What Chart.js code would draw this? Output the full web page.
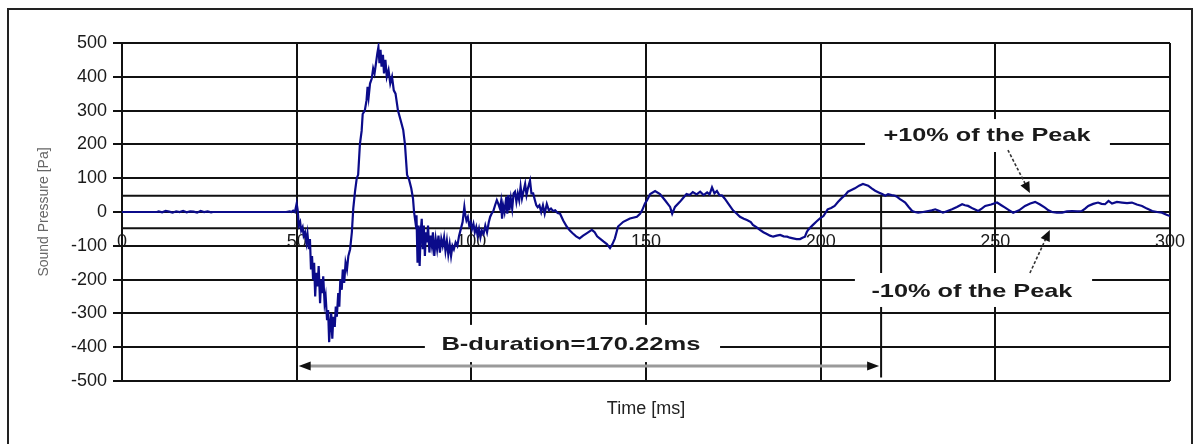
<!DOCTYPE html>
<html>
<head>
<meta charset="utf-8">
<title>Sound Pressure vs Time</title>
<script src="https://cdn.jsdelivr.net/npm/chart.js@4.4.1/dist/chart.umd.min.js"></script>
<style>
    html, body { margin: 0; padding: 0; background: #fff; }
    #wrap { position: relative; width: 1200px; height: 444px; }
    canvas { display: block; }
</style>
</head>
<body>
<div id="wrap"><canvas id="blastChart" width="1200" height="444"></canvas></div>
<script>
// 时间轴 (ms) 与声压 (Pa)
const timeMs = [
    0, 10, 10.5, 11.5, 12.5, 13.5, 14.5, 15.5, 16.5, 17.5, 18.5, 19.5, 20.5, 21.5, 22.5, 23.5, 24.5, 25.5, 26, 47, 48, 48.5, 49, 49.5,
    50.0, 50.3, 50.6, 51.0, 51.3, 51.7, 52.0, 52.4, 52.8, 53.1, 53.5, 53.8, 54.1, 54.4, 54.7, 55.0, 55.3, 55.6, 56.0, 56.3, 56.7, 57.0, 57.3, 57.6, 58.0, 58.3,
    58.7, 59.0, 59.3, 59.6, 59.9, 60.2, 60.5, 60.9, 61.2, 61.5, 61.9, 62.2, 62.5, 62.9, 63.2, 63.6, 64.0, 64.4, 64.8, 65.3, 65.8,
    66.2, 66.7, 67.2, 67.6, 68.1, 68.6, 68.9, 69.5, 70.0, 70.3, 70.6, 71.0, 71.5, 71.9, 72.3, 72.7, 73.1, 73.4, 73.7, 74.0, 74.3, 74.7,
    75.0, 75.4, 75.8, 76.3, 76.8, 77.3, 77.8, 78.3, 79.0, 79.8, 80.5, 81.0, 81.6, 82.2, 82.8, 83.3, 83.6,
    84.0, 84.3, 84.6, 84.9, 85.2, 85.5, 85.8, 86.1, 86.4, 86.7, 87.0, 87.3, 87.6, 88.0, 88.3, 88.7, 89.0, 89.4, 89.8, 90.2, 90.6,
    91.0, 91.4, 91.8, 92.2, 92.6, 93.0, 93.4, 93.8, 94.2, 94.6, 95.0, 95.5, 96.0, 96.5, 97.0, 97.5,
    98.0, 98.3, 98.6, 99.0, 99.4, 99.8, 100.2, 100.6, 101.0, 101.4, 101.8, 102.2, 102.6, 103.0, 103.5, 104.0, 104.5, 105.0, 105.4, 105.8,
    106.3, 106.8, 107.3, 107.7, 108.2, 108.5, 108.8, 109.1, 109.5, 110.0, 110.3, 110.6, 110.9, 111.3, 111.7, 112.1, 112.5, 112.9, 113.3, 113.7,
    114.1, 114.5, 114.9, 115.4, 115.8, 116.2, 116.8, 117.2, 117.7, 118.2, 118.6, 119.0, 119.5, 120.0, 120.5, 121.0, 121.6, 122.2, 122.8, 123.4,
    124.0, 124.7, 125.4, 126.3, 127.3, 128.2, 129.0, 130.0, 131.0, 132.0, 133.0, 134.5, 135.3, 136.0, 137.0, 137.8, 138.8, 139.7, 140.4, 141.1,
    142.0, 143.5, 145.4, 147.4, 148.3, 148.9, 149.7, 150.3, 151.2, 152.6, 154.0, 155.5, 156.9, 157.5, 158.3, 159.7, 160.5, 161.6, 162.5, 163.4,
    164.5, 165.5, 166.5, 167.5, 168.2, 168.9, 169.6, 170.3, 171.0, 171.8, 172.5, 173.2, 174.0, 174.9, 176.0, 176.9, 178.0, 178.9, 180.0, 180.6,
    181.6, 182.6, 183.6, 184.6, 185.5, 186.4, 187.4, 188.4, 189.4, 190.4, 191.2, 192.1, 193.1, 194.1, 194.8, 195.5, 196.0, 196.4, 197.1, 197.8,
    198.8, 199.8, 200.8, 202.0, 203.0, 204.0, 205.0, 206.0, 207.0, 207.8, 208.8, 209.8, 211.0, 212.1, 213.0, 213.6, 214.6, 215.6, 216.6, 217.6,
    218.5, 219.3, 220.3, 221.3, 222.0, 222.7, 223.5, 224.2, 225.2, 226.2, 227.0, 227.9, 229.3, 230.8, 231.8, 232.8, 234.0, 235.0, 236.3, 237.6,
    239.0, 240.5, 241.3, 242.2, 243.6, 245.1, 246.1, 247.1, 248.8, 250.5, 251.7, 252.8, 254.0, 255.1, 256.8, 258.5, 260.0, 261.4, 262.8, 264.2,
    265.2, 266.2, 267.6, 269.1, 270.5, 272.0, 273.4, 274.8, 275.7, 276.6, 278.0, 279.4, 280.4, 281.4, 282.4, 283.4, 284.8, 286.3, 287.7, 289.1,
    290.5, 292.0, 293.4, 294.9, 296.3, 297.7, 299.0, 300.0
];

const pressurePa = [
    0, 0, 2, -1, 3, 1, -2, 2, 0, 3, -1, 2, 1, -2, 3, 0, 2, -1, 0, 0, 2, 0, 4, 0,
    25, 5, -40, -30, -55, -45, -70, -60, -90, -65, -110, -80, -170, -130, -200, -150, -250, -180, -220, -160, -270, -200, -240, -190, -270, -250,
    -320, -290, -385, -330, -300, -375, -310, -340, -280, -310, -240, -280, -200, -230, -170, -210, -150, -170, -130, -110, -60,
    10, 60, 100, 110, 200, 240, 290, 300, 330, 370, 340, 380, 395, 425, 410, 440, 470, 488, 440, 480, 430, 465,
    410, 450, 400, 420, 380, 400, 360, 350, 300, 270, 243, 200, 110, 95, 70, 40, 0,
    -30, -10, -150, -40, -160, -60, -20, -110, -40, -130, -60, -90, -40, -120, -70, -100, -60, -130, -80, -110, -70,
    -120, -80, -100, -75, -115, -85, -125, -95, -130, -100, -110, -90, -100, -70, -50, -30,
    15, -10, -25, -15, -40, -30, -50, -35, -60, -45, -70, -50, -75, -55, -65, -40, -60, -30, -14, -5,
    3, 20, 35, 25, 10, 30, -20, 20, 0, 45, -5, 50, 5, 40, 10, 55, 60, 30, 55, 35,
    75, 40, 60, 83, 50, 70, 93, 55, 55, 35, 20, 14, 20, 0, 20, -5, 24, 5, 10, 3,
    5, -3, -5, -25, -43, -55, -63, -72, -78, -70, -63, -53, -60, -72, -80, -87, -95, -107, -95, -78,
    -43, -29, -19, -14, -5, 5, 25, 35, 53, 62, 53, 34, 15, -5, 15, 30, 40, 53, 50, 59,
    52, 60, 50, 58, 52, 73, 55, 62, 50, 49, 40, 30, 18, 5, -5, -14, -20, -24, -30, -38,
    -45, -53, -60, -65, -70, -73, -70, -68, -72, -73, -76, -78, -80, -80, -76, -73, -60, -53, -45, -38,
    -28, -19, -12, 8, 12, 18, 30, 41, 50, 60, 65, 70, 78, 83, 80, 78, 70, 63, 58, 53,
    48, 53, 50, 48, 44, 38, 33, 28, 15, 3, 0, -2, 0, 3, 5, 8, 3, -2, 3, 8,
    15, 23, 20, 18, 10, 3, 10, 18, 22, 28, 20, 13, 5, -2, 5, 18, 25, 30, 22, 13,
    5, 0, -2, -2, 2, 3, 2, 3, 10, 18, 24, 28, 24, 23, 33, 25, 30, 28, 26, 28,
    22, 18, 10, 3, 0, -2, -8, -12
];

// ±10% 峰值参考线 与 B-持续时间
const peakLevel = 48;
const bDurationStart = 50;
const bDurationEnd = 217.3;
const bDurationLabel = 'B-duration=170.22ms';

const yTicks = [-500, -400, -300, -200, -100, 0, 100, 200, 300, 400, 500];
const xTicks = [0, 50, 100, 150, 200, 250, 300];

const FONT = '"Liberation Sans", Arial, sans-serif';

// 原图文字横向拉宽，这里按目标宽度横向缩放
function drawStretchedText(ctx, text, cx, cy, width, font) {
    ctx.font = font;
    const w = ctx.measureText(text).width;
    ctx.save();
    ctx.translate(cx, cy);
    ctx.scale(width / w, 1);
    ctx.textAlign = 'center';
    ctx.textBaseline = 'middle';
    ctx.fillText(text, 0, 0);
    ctx.restore();
}

function arrowHead(ctx, x1, y1, x2, y2, len, half) {
    const a = Math.atan2(y2 - y1, x2 - x1);
    ctx.beginPath();
    ctx.moveTo(x2, y2);
    ctx.lineTo(x2 - len * Math.cos(a) + half * Math.sin(a), y2 - len * Math.sin(a) - half * Math.cos(a));
    ctx.lineTo(x2 - len * Math.cos(a) - half * Math.sin(a), y2 - len * Math.sin(a) + half * Math.cos(a));
    ctx.closePath();
    ctx.fill();
}

// 横轴不为刻度文字预留左右边距
function noSidePadding(s) {
    s.paddingLeft = 0;
    s.paddingRight = 0;
}

const notesPlugin = {
    id: 'notes',
    afterDatasetsDraw(chart) {
        const { ctx } = chart;
        const x = chart.scales.x;
        const y = chart.scales.y;
        const px = v => x.getPixelForValue(v);
        const py = v => y.getPixelForValue(v);

        ctx.save();

        // 白底
        ctx.fillStyle = '#fff';
        const boxes = [
            [212.7, 282.8, 275, 177.5],
            [209.8, 277.7, -180.5, -281],
            [86.7, 171.2, -334, -444]
        ];
        boxes.forEach(b => {
            ctx.fillRect(px(b[0]), py(b[2]), px(b[1]) - px(b[0]), py(b[3]) - py(b[2]));
        });

        // 文字
        ctx.fillStyle = '#1a1a1a';
        drawStretchedText(ctx, '+10% of the Peak', px(247.6), py(225), 207, 'bold 19px ' + FONT);
        drawStretchedText(ctx, '-10% of the Peak', px(243.3), py(-237), 201, 'bold 19px ' + FONT);
        drawStretchedText(ctx, bDurationLabel, px(128.5), py(-394), 259, 'bold 19px ' + FONT);

        // B-duration 双向箭头
        const ay = py(-455.6);
        const ax1 = px(bDurationStart) + 2;
        const ax2 = px(bDurationEnd) - 2;
        ctx.strokeStyle = '#9a9a9a';
        ctx.lineWidth = 3;
        ctx.beginPath();
        ctx.moveTo(ax1 + 8, ay);
        ctx.lineTo(ax2 - 8, ay);
        ctx.stroke();
        ctx.fillStyle = '#111';
        arrowHead(ctx, ax2, ay, ax1, ay, 12, 4.5);
        arrowHead(ctx, ax1, ay, ax2, ay, 12, 4.5);

        // ±10% 指示箭头 (虚线)
        ctx.strokeStyle = '#333';
        ctx.lineWidth = 1.6;
        ctx.setLineDash([3, 2]);
        const pointers = [
            [253.6, 183.4, 259.9, 56.2],
            [259.9, -180.5, 265.6, -53.3]
        ];
        pointers.forEach(p => {
            const x1 = px(p[0]), y1 = py(p[1]), x2 = px(p[2]), y2 = py(p[3]);
            const a = Math.atan2(y2 - y1, x2 - x1);
            ctx.beginPath();
            ctx.moveTo(x1, y1);
            ctx.lineTo(x2 - 9 * Math.cos(a), y2 - 9 * Math.sin(a));
            ctx.stroke();
        });
        ctx.setLineDash([]);
        pointers.forEach(p => {
            arrowHead(ctx, px(p[0]), py(p[1]), px(p[2]), py(p[3]), 11, 5);
        });

        ctx.restore();
    }
};

// 外框
const framePlugin = {
    id: 'frame',
    afterDraw(chart) {
        const { ctx } = chart;
        ctx.save();
        ctx.strokeStyle = '#222';
        ctx.lineWidth = 2;
        ctx.beginPath();
        ctx.moveTo(8, 450);
        ctx.lineTo(8, 9);
        ctx.lineTo(1192, 9);
        ctx.lineTo(1192, 450);
        ctx.stroke();
        ctx.restore();
    }
};

const waveform = timeMs.map((t, i) => ({ x: t, y: pressurePa[i] }));

const ctx = document.getElementById('blastChart');
const chart = new Chart(ctx, {
    type: 'line',
    data: {
        datasets: [
            {
                label: 'Sound Pressure',
                data: waveform,
                borderColor: '#0b0b8a',
                borderWidth: 2.2,
                pointRadius: 0,
                tension: 0
            },
            {
                label: '+10%',
                data: [{ x: 0, y: peakLevel }, { x: 300, y: peakLevel }],
                borderColor: '#111',
                borderWidth: 2,
                pointRadius: 0
            },
            {
                label: '-10%',
                data: [{ x: 0, y: -peakLevel }, { x: 300, y: -peakLevel }],
                borderColor: '#111',
                borderWidth: 2,
                pointRadius: 0
            },
            {
                label: 'B-duration end',
                data: [{ x: bDurationEnd, y: peakLevel }, { x: bDurationEnd, y: -490 }],
                borderColor: '#111',
                borderWidth: 2,
                pointRadius: 0
            }
        ]
    },
    options: {
        responsive: false,
        animation: false,
        devicePixelRatio: 1,
        layout: {
            padding: { left: 8, right: 30, top: 43, bottom: 0 }
        },
        plugins: {
            legend: { display: false },
            tooltip: { enabled: false }
        },
        scales: {
            x: {
                type: 'linear',
                position: { y: 0 },
                min: 0,
                max: 300,
                afterBuildTicks: s => { s.ticks = xTicks.map(v => ({ value: v })); },
                afterFit: noSidePadding,
                grid: {
                    color: '#111',
                    lineWidth: 2,
                    drawTicks: false
                },
                border: { color: '#111', width: 2 },
                ticks: {
                    padding: 19,
                    color: '#1a1a1a',
                    font: { family: FONT, size: 18 },
                    maxRotation: 0,
                    autoSkip: false
                }
            },
            x2: {
                type: 'linear',
                position: 'bottom',
                min: 0,
                max: 300,
                grid: { display: false },
                border: { display: false },
                ticks: { display: false },
                afterFit: s => { s.height = 63; noSidePadding(s); },
                title: {
                    display: true,
                    text: 'Time [ms]',
                    color: '#222',
                    font: { family: FONT, size: 18 },
                    padding: { top: 0, bottom: 24 }
                }
            },
            y: {
                type: 'linear',
                position: 'left',
                min: -500,
                max: 500,
                afterBuildTicks: s => { s.ticks = yTicks.map(v => ({ value: v })); },
                afterFit: s => { s.width = 114; },
                grid: {
                    color: '#111',
                    lineWidth: 2,
                    tickLength: 9
                },
                border: { color: '#111', width: 2 },
                ticks: {
                    padding: 6,
                    color: '#1a1a1a',
                    font: { family: FONT, size: 18 }
                },
                title: {
                    display: true,
                    text: 'Sound Pressure [Pa]',
                    color: '#666',
                    font: { family: FONT, size: 14 },
                    padding: { top: 28, bottom: 0 }
                }
            }
        }
    },
    plugins: [notesPlugin, framePlugin]
});
</script>
</body>
</html>
